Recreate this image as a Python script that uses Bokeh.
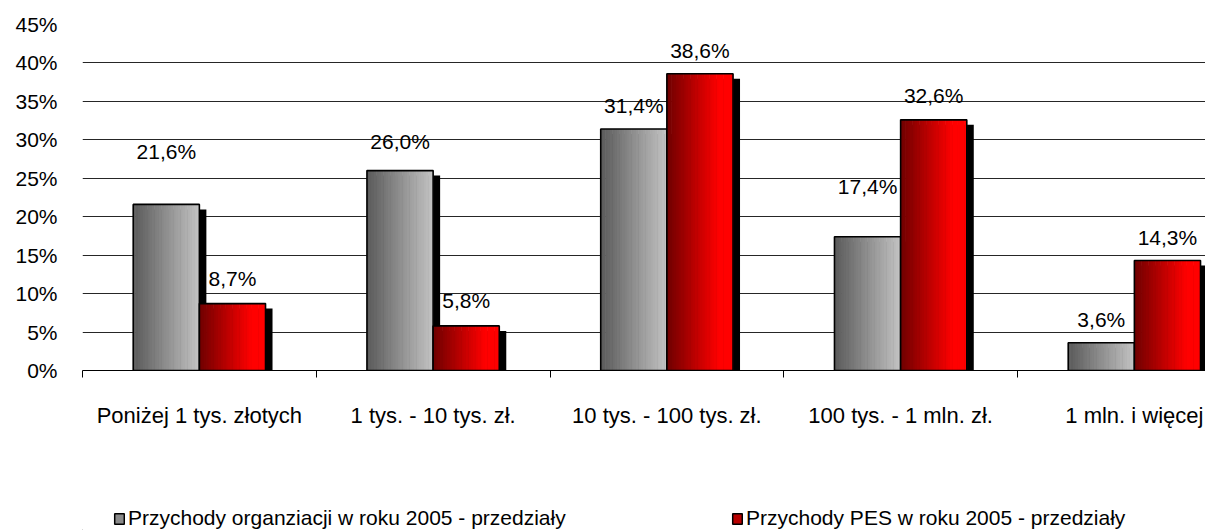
from bokeh.plotting import figure
from bokeh.layouts import column
from bokeh.models import Range1d, FixedTicker, ColumnDataSource, Legend, LegendItem
from bokeh.core.properties import value
from bokeh.embed import file_html
from bokeh.resources import INLINE

# ---------------- data ----------------
categories = [
    "Poniżej 1 tys. złotych",
    "1 tys. - 10 tys. zł.",
    "10 tys. - 100 tys. zł.",
    "100 tys. - 1 mln. zł.",
    "1 mln. i więcej",
]
org_values = [21.6, 26.0, 31.4, 17.4, 3.6]
pes_values = [8.7, 5.8, 38.6, 32.6, 14.3]
org_labels = ["21,6%", "26,0%", "31,4%", "17,4%", "3,6%"]
pes_labels = ["8,7%", "5,8%", "38,6%", "32,6%", "14,3%"]
series_names = [
    "Przychody organziacji w roku 2005 - przedziały",
    "Przychody PES w roku 2005 - przedziały",
]
y_ticks = [0, 5, 10, 15, 20, 25, 30, 35, 40, 45]
y_tick_labels = ["0%", "5%", "10%", "15%", "20%", "25%", "30%", "35%", "40%", "45%"]

# label placement (pixels above the bar top) - styling only
org_label_dy = [53, 29, 24, 50, 23]
pes_label_dy = [25, 25, 23, 24, 23]

FONT = "Liberation Sans"
CAT_PX = 233.75
FRAME_W = 1123
BAR_W = 0.283
SHADOW_DX = 7 / CAT_PX
SHADOW_DY = 5 / (346 / 45)
N_STRIPS = 28


def hexc(r, g, b):
    return "#%02x%02x%02x" % (int(r), int(g), int(b))


gray_cols = []
red_cols = []
for k in range(N_STRIPS):
    t = k / (N_STRIPS - 1)
    g = 0x5c + (0xc2 - 0x5c) * t
    gray_cols.append(hexc(g, g, g))
    tr = min(1.0, t / 0.8)
    red_cols.append(hexc(0x72 + (0xff - 0x72) * tr, 0, 0))

p = figure(
    width=1205, height=440,
    x_range=Range1d(0, FRAME_W / CAT_PX), y_range=Range1d(0, 45),
    output_backend="svg", toolbar_location=None,
    min_border_left=82, min_border_right=0, min_border_top=24, min_border_bottom=70,
)
p.outline_line_color = None
p.background_fill_color = "white"
p.border_fill_color = "white"

# grid
p.xgrid.visible = False
p.ygrid.ticker = FixedTicker(ticks=y_ticks)
p.ygrid.grid_line_color = "#262626"
p.ygrid.grid_line_width = 1

# axes
p.yaxis.ticker = FixedTicker(ticks=y_ticks, minor_ticks=[])
p.yaxis.major_label_overrides = {t: l for t, l in zip(y_ticks, y_tick_labels)}
p.yaxis.axis_line_color = None
p.yaxis.major_tick_line_color = None
p.yaxis.minor_tick_line_color = None
p.yaxis.major_tick_out = 0
p.yaxis.major_tick_in = 0
p.yaxis.major_label_standoff = 25
p.yaxis.major_label_text_font = FONT
p.yaxis.major_label_text_font_size = "21px"
p.yaxis.major_label_text_color = "black"

centers = [i + 0.5 for i in range(len(categories))]
p.xaxis.ticker = FixedTicker(ticks=centers, minor_ticks=list(range(len(categories))))
p.xaxis.major_label_overrides = {c: n for c, n in zip(centers, categories)}
p.xaxis.axis_line_color = "black"
p.xaxis.axis_line_width = 1
p.xaxis.major_tick_line_color = None
p.xaxis.major_tick_out = 0
p.xaxis.major_tick_in = 0
p.xaxis.minor_tick_line_color = "black"
p.xaxis.minor_tick_out = 7
p.xaxis.minor_tick_in = 0
p.xaxis.major_label_standoff = 25
p.xaxis.major_label_text_font = FONT
p.xaxis.major_label_text_font_size = "22px"
p.xaxis.major_label_text_color = "black"


def draw_series(values, offset, colors, labels, label_dy):
    xc = [c + offset for c in centers]
    # shadow
    p.vbar(x=[x + SHADOW_DX for x in xc], top=[max(0, v - SHADOW_DY) for v in values],
           bottom=0, width=BAR_W, fill_color="black", line_color=None)
    # gradient strips
    sw = BAR_W / len(colors)
    xs, tops, cols = [], [], []
    for x, v in zip(xc, values):
        left = x - BAR_W / 2
        for k, col in enumerate(colors):
            xs.append(left + (k + 0.5) * sw)
            tops.append(v)
            cols.append(col)
    src = ColumnDataSource(dict(x=xs, top=tops, color=cols))
    p.vbar(x="x", top="top", bottom=0, width=sw * 1.25, fill_color="color",
           line_color=None, source=src)
    # outline
    p.vbar(x=xc, top=values, bottom=0, width=BAR_W, fill_color=None,
           line_color="black", line_width=1.6)
    # labels
    lsrc = ColumnDataSource(dict(x=xc, y=values, text=labels, dy=[-d for d in label_dy]))
    p.text(x="x", y="y", text="text", y_offset="dy", source=lsrc,
           text_align="center", text_baseline="middle",
           text_font=value(FONT), text_font_size="21px", text_color="black")


draw_series(org_values, -BAR_W / 2, gray_cols, org_labels, org_label_dy)
draw_series(pes_values, BAR_W / 2, red_cols, pes_labels, pes_label_dy)

# ---------------- legend strip ----------------
pl = figure(
    width=1205, height=90, x_range=Range1d(0, 1), y_range=Range1d(0, 1),
    output_backend="svg", toolbar_location=None,
    x_axis_type=None, y_axis_type=None,
    min_border_left=0, min_border_right=0, min_border_top=0, min_border_bottom=0,
)
pl.outline_line_color = None
pl.xgrid.visible = False
pl.ygrid.visible = False
# proxy renderers placed outside the visible range; they only supply legend swatches
leg_gray = pl.vbar(x=[-5], top=[-5], bottom=-6, width=0.1, fill_color="#8a8a8a",
                   line_color="black", line_width=1.5)
leg_red = pl.vbar(x=[-5], top=[-5], bottom=-6, width=0.1, fill_color="#b80000",
                  line_color="black", line_width=1.5)

for rend, name, lx in [(leg_gray, series_names[0], 31), (leg_red, series_names[1], 649)]:
    lg = Legend(
        items=[LegendItem(label=name, renderers=[rend])],
        location=(lx, 0), orientation="horizontal",
        padding=0, margin=0, border_line_color=None, background_fill_alpha=0,
        glyph_width=12, glyph_height=13, label_standoff=3,
        label_text_font=FONT, label_text_font_size="21px", label_text_color="black",
    )
    pl.add_layout(lg)

layout = column(p, pl, spacing=0)
open("out.html", "w").write(file_html(layout, INLINE))
